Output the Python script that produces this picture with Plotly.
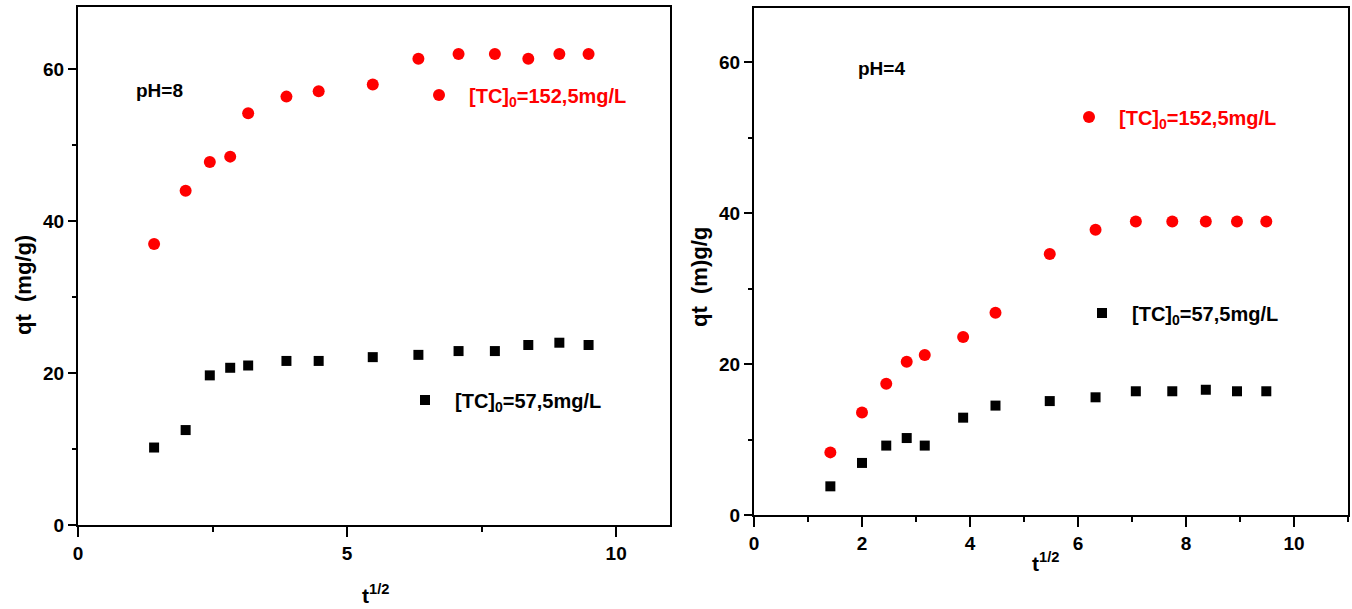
import plotly.graph_objects as go

# ---- data ----
t_half = [1.414, 2.0, 2.449, 2.828, 3.162, 3.873, 4.472, 5.477, 6.325, 7.071, 7.746, 8.367, 8.944, 9.487]
qt_ph8_152 = [37.0, 44.0, 47.8, 48.5, 54.2, 56.4, 57.1, 58.0, 61.4, 62.0, 62.0, 61.4, 62.0, 62.0]
qt_ph8_57 = [10.2, 12.5, 19.7, 20.7, 21.0, 21.6, 21.6, 22.1, 22.4, 22.9, 22.9, 23.7, 24.0, 23.7]
qt_ph4_152 = [8.3, 13.6, 17.4, 20.3, 21.2, 23.6, 26.8, 34.6, 37.8, 38.9, 38.9, 38.9, 38.9, 38.9]
qt_ph4_57 = [3.8, 6.9, 9.2, 10.2, 9.2, 12.9, 14.5, 15.1, 15.6, 16.4, 16.4, 16.6, 16.4, 16.4]

name_152 = "[TC]<sub>0</sub>=152,5mg/L"
name_57 = "[TC]<sub>0</sub>=57,5mg/L"

W, H = 1352, 609
FONT = "Liberation Sans, Arial, sans-serif"
RED = "#ff0000"
BLACK = "#000000"


def px(x):
    return x / W


def py(y):
    return 1 - y / H


fig = go.Figure()

fig.add_trace(go.Scatter(x=t_half, y=qt_ph8_152, mode="markers", name=name_152,
                         marker=dict(symbol="circle", size=12, color=RED),
                         xaxis="x", yaxis="y", legend="legend"))
fig.add_trace(go.Scatter(x=t_half, y=qt_ph8_57, mode="markers", name=name_57,
                         marker=dict(symbol="square", size=10, color=BLACK),
                         xaxis="x", yaxis="y", legend="legend2"))
fig.add_trace(go.Scatter(x=t_half, y=qt_ph4_152, mode="markers", name=name_152,
                         marker=dict(symbol="circle", size=12, color=RED),
                         xaxis="x2", yaxis="y2", legend="legend3"))
fig.add_trace(go.Scatter(x=t_half, y=qt_ph4_57, mode="markers", name=name_57,
                         marker=dict(symbol="square", size=10, color=BLACK),
                         xaxis="x2", yaxis="y2", legend="legend4"))

axis_common = dict(showline=True, linewidth=2, linecolor="black", mirror=True,
                   showgrid=False, zeroline=False, ticks="outside", tickwidth=2,
                   tickcolor="black", automargin=False,
                   tickfont=dict(family=FONT, size=19, color="black", weight="bold"))

xcommon = dict(axis_common, ticklen=10, range=[0, 11],
               minor=dict(ticks="outside", ticklen=5, tickwidth=2, tickcolor="black"))
ycommon = dict(axis_common, ticklen=8, dtick=20,
               minor=dict(ticks="outside", ticklen=4, tickwidth=2, tickcolor="black", dtick=10))

legend_common = dict(bgcolor="rgba(0,0,0,0)", borderwidth=0, xanchor="left", yanchor="middle",
                     itemwidth=50)


def leg(mx, my, color):
    return dict(legend_common, x=px(mx - 30), y=py(my),
                font=dict(family=FONT, size=20, color=color, weight="bold"))


fig.update_layout(
    template="none",
    width=W, height=H,
    margin=dict(l=0, r=0, t=0, b=0, autoexpand=False),
    paper_bgcolor="white", plot_bgcolor="white",
    showlegend=True,
    xaxis=dict(xcommon, domain=[px(78), px(670)], dtick=5,
               minor=dict(xcommon["minor"], dtick=2.5), anchor="y"),
    yaxis=dict(ycommon, domain=[py(525), py(7)], range=[0, 68.2], anchor="x"),
    xaxis2=dict(xcommon, domain=[px(754), px(1348)], dtick=2,
                minor=dict(xcommon["minor"], dtick=1), anchor="y2"),
    yaxis2=dict(ycommon, domain=[py(515), py(8)], range=[0, 67.2], anchor="x2"),
    legend=leg(439, 95, RED),
    legend2=leg(425, 400, BLACK),
    legend3=leg(1089, 117, RED),
    legend4=leg(1102, 313, BLACK),
)

title_font = dict(family=FONT, size=22, color="black", weight="bold")
small_font = dict(family=FONT, size=19, color="black", weight="bold")

annotations = [
    dict(text="qt\u00a0\u00a0(mg/g)", x=px(23), y=py(285), textangle=-90, font=title_font),
    dict(text="qt\u00a0\u00a0(m)g/g", x=px(699), y=py(277), textangle=-90, font=title_font),
    dict(text="t<sup>1/2</sup>", x=px(376), y=py(594), font=dict(title_font, size=21)),
    dict(text="t<sup>1/2</sup>", x=px(1045), y=py(562), font=dict(title_font, size=21)),
]
for a in annotations:
    a.update(xref="paper", yref="paper", showarrow=False, xanchor="center", yanchor="middle")

annotations += [
    dict(text="pH=8", x=1.52, y=57.2, xref="x", yref="y", showarrow=False, font=small_font),
    dict(text="pH=4", x=2.36, y=59.2, xref="x2", yref="y2", showarrow=False, font=small_font),
]
fig.update_layout(annotations=annotations)

fig.write_html("out.html")
